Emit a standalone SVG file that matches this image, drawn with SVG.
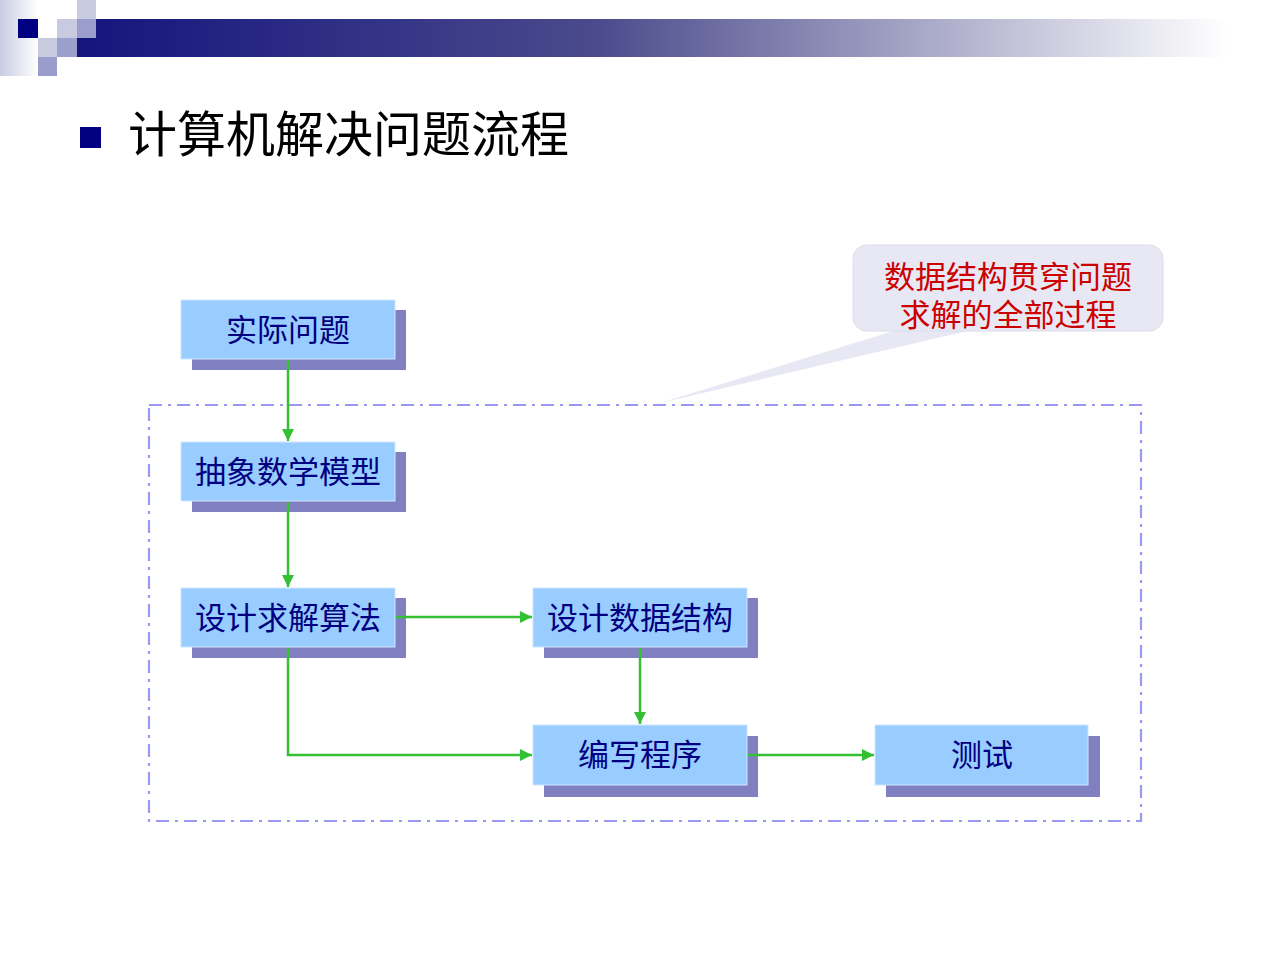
<svg xmlns="http://www.w3.org/2000/svg" width="1280" height="960" viewBox="0 0 1280 960">
<defs>
<linearGradient id="bar" x1="0" y1="0" x2="1" y2="0">
<stop offset="0" stop-color="#14147e"/>
<stop offset="0.45" stop-color="#4a4a8c"/>
<stop offset="1" stop-color="#ffffff"/>
</linearGradient>
<linearGradient id="fade" x1="0" y1="0" x2="1" y2="0">
<stop offset="0" stop-color="#c8cbe2"/>
<stop offset="1" stop-color="#ffffff"/>
</linearGradient>
<marker id="ah" viewBox="0 0 10 10" refX="10" refY="5" markerWidth="5" markerHeight="5" orient="auto" markerUnits="strokeWidth">
<path d="M0,0 L10,5 L0,10 z" fill="#33c033"/>
</marker>
</defs>
<style>
.sh{fill:#8080c0}
.bx{fill:#99ccff;stroke:#cfe6ff;stroke-width:1}
.lb{font-family:"Noto Sans CJK SC",sans-serif;font-size:31px;fill:#000080;text-anchor:middle}
.cn{fill:none;stroke:#33c033;stroke-width:2.5;marker-end:url(#ah)}
.co{font-family:"Noto Sans CJK SC",sans-serif;font-size:31px;fill:#cc0000;text-anchor:middle}
</style>
<rect width="1280" height="960" fill="#ffffff"/>
<g id="header">
<rect x="0" y="0" width="38" height="76" fill="url(#fade)"/>
<rect x="77" y="19" width="1150" height="38" fill="url(#bar)"/>
<rect x="18" y="19" width="20" height="19" fill="#000080"/>
<rect x="57" y="19" width="20" height="19" fill="#c8cbe0"/>
<rect x="77" y="0" width="19" height="19" fill="#c8cbe0"/>
<rect x="77" y="19" width="19" height="19" fill="#9b9dcc"/>
<rect x="38" y="38" width="19" height="19" fill="#c8cbe0"/>
<rect x="57" y="38" width="20" height="19" fill="#9b9fcc"/>
<rect x="38" y="57" width="19" height="19" fill="#9a9ccc"/>
</g>
<g id="title">
<rect x="80" y="127" width="21" height="21" fill="#000080"/>
<text x="128" y="152" font-family="Noto Sans CJK SC, sans-serif" font-size="49" fill="#000000">计算机解决问题流程</text>
</g>
<g id="scope">
<rect x="149" y="405" width="992" height="416" fill="none" stroke="#9999ee" stroke-width="2.2" stroke-dasharray="13,6,3,6"/>
</g>
<g id="callout">
<path d="M903,328 L660,403 L980,328 z" fill="#e8e8f4"/>
<rect x="853" y="245" width="310" height="86" rx="14" fill="#e8e8f4" stroke="#dcdcec" stroke-width="1"/>
<text class="co" x="1008" y="288">数据结构贯穿问题</text>
<text class="co" x="1008" y="326">求解的全部过程</text>
</g>
<g id="n1">
<rect class="sh" x="192" y="310" width="214" height="60"/>
<rect class="bx" x="181" y="300" width="214" height="59"/>
<text class="lb" x="288" y="341">实际问题</text>
</g>
<g id="n2">
<rect class="sh" x="192" y="452" width="214" height="60"/>
<rect class="bx" x="181" y="442" width="214" height="59"/>
<text class="lb" x="288" y="483">抽象数学模型</text>
</g>
<g id="n3">
<rect class="sh" x="192" y="598" width="214" height="60"/>
<rect class="bx" x="181" y="588" width="214" height="59"/>
<text class="lb" x="288" y="629">设计求解算法</text>
</g>
<g id="n4">
<rect class="sh" x="544" y="598" width="214" height="60"/>
<rect class="bx" x="533" y="588" width="214" height="59"/>
<text class="lb" x="640" y="629">设计数据结构</text>
</g>
<g id="n5">
<rect class="sh" x="544" y="736" width="214" height="61"/>
<rect class="bx" x="533" y="725" width="214" height="60"/>
<text class="lb" x="640" y="766">编写程序</text>
</g>
<g id="n6">
<rect class="sh" x="886" y="736" width="214" height="61"/>
<rect class="bx" x="875" y="725" width="213" height="60"/>
<text class="lb" x="982" y="766">测试</text>
</g>
<g id="connectors">
<path class="cn" d="M288,360 L288,441"/>
<path class="cn" d="M288,502 L288,587"/>
<path class="cn" d="M396,617 L532,617"/>
<path class="cn" d="M640,648 L640,724"/>
<path class="cn" d="M288,648 L288,755 L532,755"/>
<path class="cn" d="M748,755 L874,755"/>
</g>
</svg>
